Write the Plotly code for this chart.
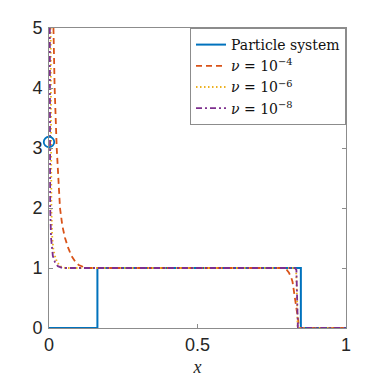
import plotly.graph_objects as go

# Particle system (piecewise constant) and point mass marker
ps_x = [0.0, 0.163, 0.163, 0.848, 0.848, 1.0]
ps_y = [0.0, 0.0, 1.0, 1.0, 0.0, 0.0]
mass_x = [0.0]
mass_y = [3.1]

# nu = 1e-4
n4_x = [0.0, 0.006, 0.010, 0.015, 0.019, 0.026, 0.037, 0.045, 0.054, 0.065, 0.076, 0.088, 0.100, 0.115, 0.130,
        0.790, 0.800, 0.808, 0.815, 0.820, 0.826, 0.830, 0.834, 0.837, 0.839, 0.842, 1.0]
n4_y = [12.0, 7.5, 6.0, 5.0, 4.0, 3.0, 2.0, 1.7, 1.5, 1.33, 1.2, 1.11, 1.05, 1.02, 1.0,
        1.0, 0.97, 0.92, 0.85, 0.77, 0.58, 0.48, 0.36, 0.24, 0.13, 0.0, 0.0]

# nu = 1e-6
n6_x = [0.0, 0.004, 0.006, 0.008, 0.011, 0.015, 0.020, 0.027, 0.038, 0.055,
        0.828, 0.832, 0.835, 0.837, 0.840, 1.0]
n6_y = [12.0, 6.5, 5.0, 2.0, 1.5, 1.3, 1.2, 1.1, 1.03, 1.0,
        1.0, 0.97, 0.5, 0.03, 0.0, 0.0]

# nu = 1e-8
n8_x = [0.0, 0.002, 0.003, 0.004, 0.007, 0.010, 0.013, 0.020, 0.030, 0.045,
        0.828, 0.833, 0.835, 0.836, 0.838, 1.0]
n8_y = [12.0, 5.0, 3.0, 2.0, 1.5, 1.3, 1.2, 1.1, 1.03, 1.0,
        1.0, 0.97, 0.5, 0.03, 0.0, 0.0]

x_ticks = [0, 0.5, 1]
x_ticklabels = ["0", "0.5", "1"]
y_ticks = [0, 1, 2, 3, 4, 5]

blue = "#0072BD"
orange = "#D95319"
yellow = "#EDB120"
purple = "#7E2F8E"

fig = go.Figure()
fig.add_trace(go.Scatter(x=ps_x, y=ps_y, mode="lines", name="Particle system",
                         line=dict(color=blue, width=2)))
fig.add_trace(go.Scatter(x=n4_x, y=n4_y, mode="lines", name="<i>ν</i> = 10<sup>−4</sup>",
                         line=dict(color=orange, width=1.8, dash="6px,4px")))
fig.add_trace(go.Scatter(x=n6_x, y=n6_y, mode="lines", name="<i>ν</i> = 10<sup>−6</sup>",
                         line=dict(color=yellow, width=1.8, dash="1.5px,2.5px")))
fig.add_trace(go.Scatter(x=n8_x, y=n8_y, mode="lines", name="<i>ν</i> = 10<sup>−8</sup>",
                         line=dict(color=purple, width=1.8, dash="6px,3px,2px,3px")))
fig.add_trace(go.Scatter(x=mass_x, y=mass_y, mode="markers", showlegend=False, cliponaxis=False,
                         marker=dict(symbol="circle-open", size=10.5, color=blue, line=dict(width=1.8, color=blue))))

axis_common = dict(showgrid=False, zeroline=False, showline=True, linecolor="#8c8c8c", linewidth=1,
                   mirror="ticks", ticks="inside", ticklen=4, tickcolor="#8c8c8c", automargin=False,
                   tickfont=dict(family="Liberation Sans, Arial, sans-serif", size=18, color="#262626"))

# page body has an 8px default margin, so the figure is 374 px and offset by 8 px
fig.update_layout(
    width=374, height=374,
    margin=dict(l=41, r=36, t=20, b=54),
    paper_bgcolor="white", plot_bgcolor="white",
    showlegend=True,
    legend=dict(x=1, y=1, xanchor="right", yanchor="top",
                bgcolor="white", bordercolor="#8c8c8c", borderwidth=1,
                font=dict(family="DejaVu Serif, Liberation Serif, serif", size=14, color="#111111"),
                tracegroupgap=0, itemwidth=30),
)
fig.update_xaxes(range=[0, 1], tickvals=x_ticks, ticktext=x_ticklabels,
                 title=dict(text="<i>x</i>", font=dict(family="Liberation Serif, serif", size=18, color="#262626"), standoff=6),
                 **axis_common)
fig.update_yaxes(range=[0, 5], tickvals=y_ticks, ticklabelstandoff=2, **axis_common)

fig.write_html("out.html")
